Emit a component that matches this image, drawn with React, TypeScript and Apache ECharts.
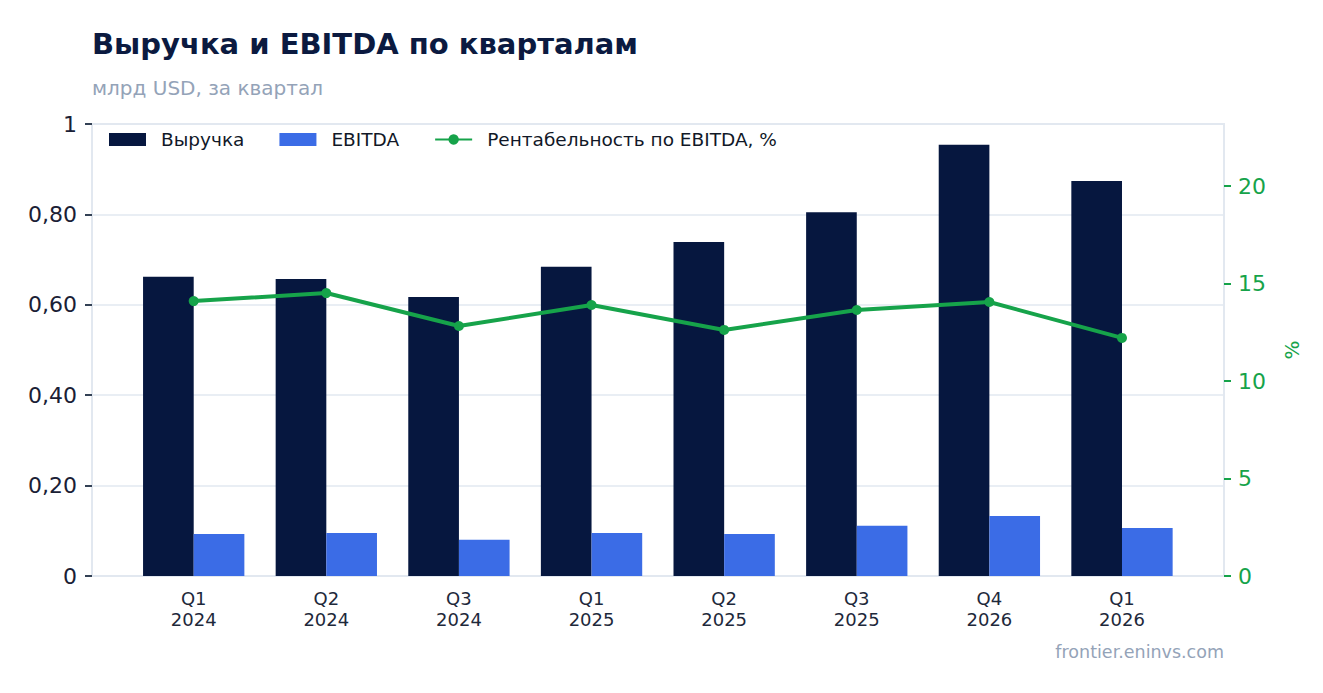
import React, { useEffect, useRef } from 'react';
import * as echarts from 'echarts';

const quarters = ['Q1\n2024', 'Q2\n2024', 'Q3\n2024', 'Q1\n2025', 'Q2\n2025', 'Q3\n2025', 'Q4\n2026', 'Q1\n2026'];
const revenue = [0.662, 0.657, 0.617, 0.684, 0.739, 0.805, 0.954, 0.874];
const ebitda = [0.093, 0.095, 0.08, 0.095, 0.093, 0.111, 0.133, 0.106];
const margin = [14.1, 14.51, 12.82, 13.9, 12.62, 13.64, 14.05, 12.21];
const marginTicks = [0, 5, 10, 15, 20];

const FONT = 'DejaVu Sans';
const NAVY = '#06173f';
const BLUE = '#3b6ce6';
const GREEN = '#16a34a';
const LIGHT = '#e2e8f0';
const MUTED = '#94a3b8';
const RIGHT_MAX = 23.18;

const App: React.FC = () => {
  const chartref = useRef<HTMLDivElement>(null);
  useEffect(() => {
    const myChart = echarts.init(chartref.current as HTMLDivElement, undefined, { renderer: 'svg' });
    const option: echarts.EChartsOption = {
      animation: false,
      textStyle: { fontFamily: FONT },
      title: {
        left: 92,
        top: 29,
        text: 'Выручка и EBITDA по кварталам',
        textStyle: { color: '#0b1a40', fontSize: 29, fontWeight: 'bold', fontFamily: FONT },
        subtext: 'млрд USD, за квартал',
        subtextStyle: { color: MUTED, fontSize: 20, fontFamily: FONT },
        itemGap: 20,
        padding: 0,
      },
      legend: {
        left: 109,
        top: 130,
        padding: 0,
        itemWidth: 37,
        itemHeight: 13,
        itemGap: 35,
        textStyle: { color: '#111827', fontSize: 18.5, fontFamily: FONT, padding: [0, 0, 0, 10] },
        data: [
          { name: 'Выручка', icon: 'rect' },
          { name: 'EBITDA', icon: 'rect' },
          { name: 'Рентабельность по EBITDA, %' },
        ],
      },
      graphic: [
        {
          type: 'text',
          right: 99,
          top: 643,
          style: { text: 'frontier.eninvs.com', fill: MUTED, fontSize: 17.5, fontFamily: FONT },
        },
      ],
      grid: [
        { left: 92, right: 99, top: 124, bottom: 117, show: true, borderColor: LIGHT, borderWidth: 2 },
        { left: 127.4, right: 134.7, top: 124, bottom: 117 },
      ],
      xAxis: [
        { gridIndex: 0, type: 'value', min: 0, max: 1, show: false },
        {
          gridIndex: 1,
          type: 'category',
          data: quarters,
          axisLine: { show: false },
          axisTick: { alignWithLabel: true, length: 5, lineStyle: { color: '#334155', width: 2 } },
          axisLabel: { color: '#1e293b', fontSize: 18, lineHeight: 21, margin: 12, fontFamily: FONT },
        },
      ],
      yAxis: [
        {
          gridIndex: 0,
          type: 'value',
          position: 'left',
          min: 0,
          max: 1,
          interval: 0.2,
          axisLine: { show: true, lineStyle: { color: LIGHT, width: 2 } },
          axisTick: { show: true, length: 7, lineStyle: { color: '#334155', width: 2 } },
          axisLabel: {
            color: '#1a2035',
            fontSize: 22,
            margin: 15,
            fontFamily: FONT,
            formatter: (v: number) => (v === 0 ? '0' : v === 1 ? '1' : v.toFixed(2).replace('.', ',')),
          },
          splitLine: { show: true, lineStyle: { color: LIGHT, width: 1.5 } },
        },
        {
          gridIndex: 0,
          type: 'value',
          position: 'right',
          min: 0,
          max: RIGHT_MAX,
          name: '%',
          nameLocation: 'middle',
          nameGap: 58,
          nameRotate: 90,
          nameTextStyle: { color: GREEN, fontSize: 20, fontFamily: FONT },
          axisLine: { show: true, lineStyle: { color: LIGHT, width: 2 } },
          axisTick: { show: true, length: 7, customValues: marginTicks, lineStyle: { color: GREEN, width: 2 } },
          axisLabel: { color: GREEN, fontSize: 22, margin: 14, fontFamily: FONT, customValues: marginTicks },
          splitLine: { show: false },
        },
        { gridIndex: 1, type: 'value', min: 0, max: 1, show: false, splitLine: { show: false } },
        { gridIndex: 1, type: 'value', min: 0, max: RIGHT_MAX, show: false, splitLine: { show: false } },
      ],
      series: [
        {
          name: 'Выручка',
          type: 'bar',
          xAxisIndex: 1,
          yAxisIndex: 2,
          data: revenue,
          barWidth: '38.2%',
          barGap: '0%',
          itemStyle: { color: NAVY },
        },
        {
          name: 'EBITDA',
          type: 'bar',
          xAxisIndex: 1,
          yAxisIndex: 2,
          data: ebitda,
          barWidth: '38.2%',
          barGap: '0%',
          itemStyle: { color: BLUE },
        },
        {
          name: 'Рентабельность по EBITDA, %',
          type: 'line',
          xAxisIndex: 1,
          yAxisIndex: 3,
          data: margin,
          symbol: 'circle',
          symbolSize: 10,
          lineStyle: { color: GREEN, width: 4 },
          itemStyle: { color: GREEN },
          z: 5,
        },
      ],
    };
    myChart.setOption(option);

    return () => {
      myChart.dispose();
    };
  }, []);

  return (
    <div
      ref={chartref}
      style={{ position: 'fixed', left: 0, top: 0, width: '100vw', height: '100vh', background: '#fff' }}
    />
  );
};

export default App;
